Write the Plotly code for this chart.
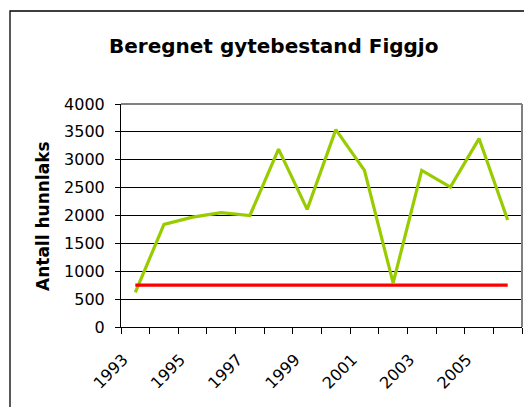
import plotly.graph_objects as go

years = [1993, 1994, 1995, 1996, 1997, 1998, 1999, 2000, 2001, 2002, 2003, 2004, 2005, 2006]
gytebestand = [620, 1840, 1970, 2050, 2000, 3190, 2110, 3540, 2810, 790, 2810, 2510, 3380, 1920]
gytebestandsmaal = [750] * len(years)
label_years = [1993, 1995, 1997, 1999, 2001, 2003, 2005]
y_ticks = [0, 500, 1000, 1500, 2000, 2500, 3000, 3500, 4000]

FONT = "DejaVu Sans"
OFF = 8  # default page body margin
W, H = 532 - OFF, 407 - OFF
# target plot-area edges in window pixels, converted to figure pixels
L, R, T, B = 121 - OFF, 522 - OFF, 104 - OFF, 327 - OFF

def px_x(px):
    return (px - OFF - L) / (R - L)

def px_y(py):
    return (B - (py - OFF)) / (B - T)

fig = go.Figure()
fig.add_trace(go.Scatter(x=years, y=gytebestand, mode="lines",
                         line=dict(color="#99CC00", width=3.2), showlegend=False))
fig.add_trace(go.Scatter(x=years, y=gytebestandsmaal, mode="lines",
                         line=dict(color="#FF0000", width=3.2), showlegend=False))

boundaries = [y - 0.5 for y in years] + [years[-1] + 0.5]

fig.update_layout(
    width=W, height=H,
    margin=dict(l=L, r=W - R, t=T, b=H - B),
    paper_bgcolor="white", plot_bgcolor="white",
    font=dict(family=FONT, color="black"),
    xaxis=dict(
        range=[years[0] - 0.5, years[-1] + 0.5],
        tickmode="array", tickvals=label_years, ticktext=[str(v) for v in label_years],
        tickangle=-45, ticks="outside", ticklen=16, tickcolor="rgba(0,0,0,0)",
        ticklabelshift=-12,
        tickfont=dict(size=16, family=FONT), showgrid=False, zeroline=False,
        showline=True, linecolor="black", linewidth=1,
    ),
    xaxis2=dict(
        range=[years[0] - 0.5, years[-1] + 0.5], overlaying="x", anchor="y", side="bottom",
        tickmode="array", tickvals=boundaries, ticks="outside", ticklen=6,
        tickcolor="black", showticklabels=False, showgrid=False, zeroline=False,
        showline=True, linecolor="black", linewidth=1,
    ),
    yaxis=dict(
        range=[0, 4000], tickmode="array", tickvals=y_ticks,
        ticks="outside", ticklen=5, tickcolor="black",
        tickfont=dict(size=16, family=FONT), showgrid=True, gridcolor="black", gridwidth=1,
        zeroline=False, showline=True, linecolor="black", linewidth=1,
        ticklabelstandoff=7,
    ),
    shapes=[
        dict(type="line", xref="paper", yref="paper", x0=0, x1=1, y0=1, y1=1,
             line=dict(color="#808080", width=2)),
        dict(type="line", xref="paper", yref="paper", x0=1, x1=1, y0=0, y1=1,
             line=dict(color="#808080", width=2)),
        dict(type="rect", xref="paper", yref="paper",
             x0=px_x(10), x1=px_x(560), y0=px_y(440), y1=px_y(11),
             line=dict(color="black", width=1.3)),
    ],
    annotations=[
        dict(text="<b>Beregnet gytebestand Figgjo</b>", xref="paper", yref="paper",
             x=px_x(273), y=px_y(46), xanchor="center", yanchor="middle",
             showarrow=False, font=dict(size=20, family=FONT)),
        dict(text="<b>Antall hunnlaks</b>", xref="paper", yref="paper",
             x=px_x(43), y=px_y(216), xanchor="center", yanchor="middle",
             textangle=-90, showarrow=False, font=dict(size=17, family=FONT)),
    ],
)
# dummy trace to activate xaxis2
fig.add_trace(go.Scatter(x=[years[0]], y=[None], xaxis="x2", showlegend=False, hoverinfo="skip"))

fig.write_html("out.html")
